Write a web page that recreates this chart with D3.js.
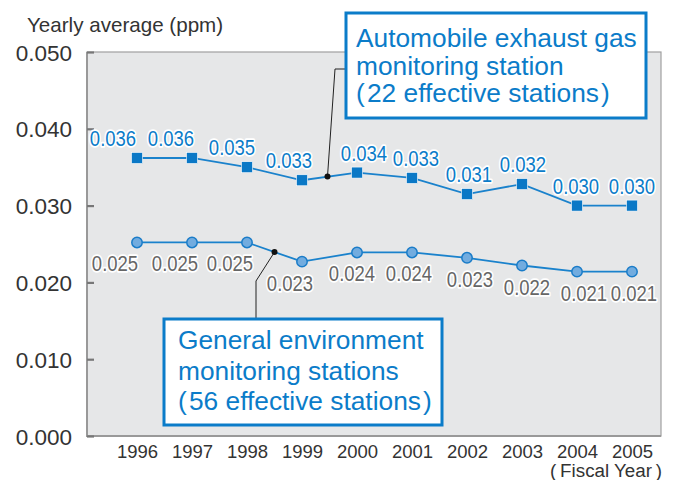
<!DOCTYPE html>
<html>
<head>
<meta charset="utf-8">
<script src="https://cdn.jsdelivr.net/npm/d3@7"></script>
<style>
  body { margin: 0; background: #fff; }
  text { font-family: "Liberation Sans", Arial, Helvetica, sans-serif; }
</style>
</head>
<body>
<svg width="675" height="480"></svg>
<script>
// data
var years = ["1996","1997","1998","1999","2000","2001","2002","2003","2004","2005"];
var autoValues = [0.0362, 0.0362, 0.0350, 0.0333, 0.0343, 0.0336, 0.0315, 0.0328, 0.0300, 0.0300];
var autoLabels = ["0.036","0.036","0.035","0.033","0.034","0.033","0.031","0.032","0.030","0.030"];
var genValues = [0.0252, 0.0252, 0.0252, 0.0227, 0.0239, 0.0239, 0.0232, 0.0222, 0.0214, 0.0214];
var genLabels = ["0.025","0.025","0.025","0.023","0.024","0.024","0.023","0.022","0.021","0.021"];
var yTicks = [0, 0.01, 0.02, 0.03, 0.04, 0.05];

// label nudges (layout only)
var autoDx = [-24, -21, -15, -13, 7, 4, 2, 1, -1, 0];
var genDx = [-22, -17, -17, -12, -5, -3, 3, 5, 7, 2];

var blue = "#0b7cc9", gray = "#666";
var pL = 87, pR = 661, pT = 52, pB = 436;

var svg = d3.select("svg");

var x = d3.scalePoint().domain(years).range([137, 632]);
var y = d3.scaleLinear().domain([0, 0.05]).range([pB, pT]);

// plot area
svg.append("rect")
	.attr("x", pL).attr("y", pT)
	.attr("width", pR - pL).attr("height", pB - pT)
	.attr("fill", "#e6e7e8").attr("stroke", "#a0a0a0").attr("stroke-width", 1.2);
svg.append("path")
	.attr("d", "M" + pL + "," + pT + "V" + pB + "H" + pR)
	.attr("fill", "none").attr("stroke", "#999").attr("stroke-width", 2);

// y axis
var yAxis = svg.append("g").attr("transform", "translate(" + pL + ",0)")
	.call(d3.axisRight(y).tickValues(yTicks).tickFormat(d3.format(".3f")).tickSize(7).tickPadding(0));
yAxis.select(".domain").remove();
yAxis.selectAll(".tick line").attr("stroke", "#777").attr("stroke-width", 2.2);
yAxis.selectAll(".tick text")
	.attr("x", -15).attr("text-anchor", "end").attr("dy", "0.36em")
	.attr("fill", "#333").style("font-size", "22.5px");

// x axis
var xAxis = svg.append("g").attr("transform", "translate(0," + pB + ")")
	.call(d3.axisBottom(x).tickSize(0).tickPadding(0));
xAxis.select(".domain").remove();
xAxis.selectAll(".tick text")
	.attr("y", 22).attr("dy", 0)
	.attr("fill", "#333").style("font-size", "18.5px");

svg.append("text").attr("x", 662).attr("y", 477).attr("text-anchor", "end")
	.attr("fill", "#333").style("font-size", "18.8px").text("(\u2009Fiscal Year\u2009)");
svg.append("text").attr("x", 27).attr("y", 32)
	.attr("fill", "#333").style("font-size", "20.6px").text("Yearly average (ppm)");

// lines
var line = d3.line().x(function(d, i) { return x(years[i]); }).y(function(d) { return y(d); });

svg.append("path").datum(autoValues).attr("d", line)
	.attr("fill", "none").attr("stroke", "#1a82cc").attr("stroke-width", 1.8);
svg.append("path").datum(genValues).attr("d", line)
	.attr("fill", "none").attr("stroke", "#1a82cc").attr("stroke-width", 1.8);

svg.selectAll(".sq").data(autoValues).enter().append("rect")
	.attr("x", function(d, i) { return x(years[i]) - 5.5; })
	.attr("y", function(d) { return y(d) - 5.5; })
	.attr("width", 11).attr("height", 11)
	.attr("fill", "#0a78c6").attr("stroke", "#fff").attr("stroke-width", 0.6);

svg.selectAll(".ci").data(genValues).enter().append("circle")
	.attr("cx", function(d, i) { return x(years[i]); })
	.attr("cy", function(d) { return y(d); })
	.attr("r", 5.2)
	.attr("fill", "#72acdf").attr("stroke", "#1a7cc8").attr("stroke-width", 1.5);

// value labels (slightly condensed)
function labels(vals, txt, dx, dy, color) {
	svg.append("g").selectAll("text").data(vals).enter().append("text")
		.attr("transform", function(d, i) {
			return "translate(" + (x(years[i]) + dx[i]) + "," + (y(d) + dy) + ") scale(0.86,1)";
		})
		.attr("text-anchor", "middle")
		.attr("fill", color)
		.attr("stroke", "#fff").attr("stroke-width", 3.5).attr("stroke-linejoin", "round")
		.style("paint-order", "stroke")
		.style("font-size", "21.5px")
		.text(function(d, i) { return txt[i]; });
}
labels(autoValues, autoLabels, autoDx, -12, blue);
labels(genValues, genLabels, genDx, 29, gray);

// callouts
function callout(bx, by, bw, bh, lines, tx, ty, lh, path, dot) {
	svg.append("path").attr("d", path).attr("fill", "none").attr("stroke", "#222").attr("stroke-width", 1);
	svg.append("circle").attr("cx", dot[0]).attr("cy", dot[1]).attr("r", 3).attr("fill", "#111");
	svg.append("rect").attr("x", bx).attr("y", by).attr("width", bw).attr("height", bh)
		.attr("fill", "#fff").attr("stroke", blue).attr("stroke-width", 3);
	var t = svg.append("text").attr("fill", blue).style("font-size", "26.3px");
	lines.forEach(function(s, i) {
		t.append("tspan").attr("x", bx + tx).attr("y", by + ty + i * lh).text(s);
	});
}

var autoDot = [(x("1999") + x("2000")) / 2 - 2, y((autoValues[3] + autoValues[4]) / 2)];
callout(346, 13, 300, 105,
	["Automobile exhaust gas", "monitoring station", "(\u200a22 effective stations\u200a)"], 10, 34, 27.5,
	"M" + autoDot[0] + "," + autoDot[1] + "L335,69H346", autoDot);

var genDot = [(x("1998") + x("1999")) / 2, y((genValues[2] + genValues[3]) / 2)];
callout(164, 319, 278, 106,
	["General environment", "monitoring stations", "(\u200a56 effective stations\u200a)"], 14, 30, 30.7,
	"M" + genDot[0] + "," + genDot[1] + "L256,281V319", genDot);
</script>
</body>
</html>
